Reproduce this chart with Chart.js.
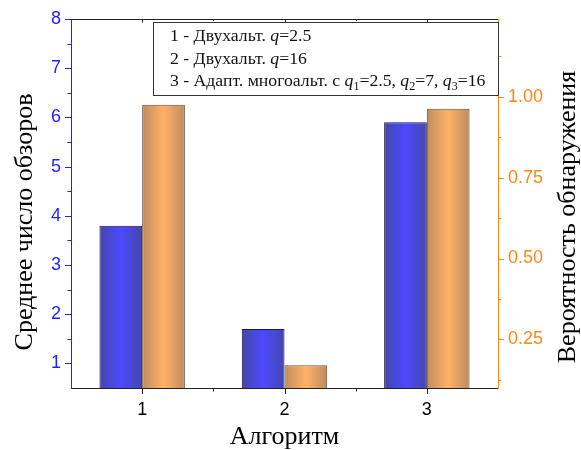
<!DOCTYPE html>
<html>
<head>
<meta charset="utf-8">
<script src="https://cdn.jsdelivr.net/npm/chart.js@4/dist/chart.umd.min.js"></script>
<style>
html,body{margin:0;padding:0;background:#fff;}
#wrap{width:581px;height:450px;position:relative;}
</style>
</head>
<body>
<div id="wrap"><canvas id="c" width="581" height="450"></canvas></div>
<script>
// ---- data ----
const categories = [1, 2, 3];
const avgScans = [3.8, 1.7, 5.9];          // left axis: Среднее число обзоров
const detectProb = [0.975, 0.17, 0.963];   // right axis: Вероятность обнаружения
const xTickValues = [1, 2, 3];
const xMinorValues = [1.5, 2.5];
const leftTickValues = [1, 2, 3, 4, 5, 6, 7, 8];
const leftMinorValues = [1.5, 2.5, 3.5, 4.5, 5.5, 6.5, 7.5];
const rightTickValues = [0.25, 0.5, 0.75, 1.0];
const rightMinorValues = [0.125, 0.375, 0.625, 0.875, 1.125];
const legendLines = [
  [['1 - Двухальт. ', 'n'], ['q', 'i'], ['=2.5', 'n']],
  [['2 - Двухальт. ', 'n'], ['q', 'i'], ['=16', 'n']],
  [['3 - Адапт. многоальт. с ', 'n'], ['q', 'i'], ['1', 's'], ['=2.5, ', 'n'], ['q', 'i'], ['2', 's'], ['=7, ', 'n'], ['q', 'i'], ['3', 's'], ['=16', 'n']]
];
const leftTitle = 'Среднее число обзоров';
const rightTitle = 'Вероятность обнаружения';
const xTitle = 'Алгоритм';

const BLUE = '#1f1fff';
const ORANGE = 'rgb(255,135,25)';
const SANS = 'Liberation Sans';
const SERIF = 'Liberation Serif';

const gradStops = [
  [[70,70,170],[74,74,255],[70,70,170]],
  [[190,140,95],[255,178,102],[190,140,95]]
];
function rgb(a){return 'rgb('+a.join(',')+')';}

const decor = {
  id: 'decor',
  beforeDatasetsDraw(chart) {
    const ctx = chart.ctx;
    chart.data.datasets.forEach((ds, i) => {
      const meta = chart.getDatasetMeta(i);
      meta.data.forEach(el => {
        const p = el.getProps(['x', 'width'], true);
        const g = ctx.createLinearGradient(p.x - p.width / 2, 0, p.x + p.width / 2, 0);
        const s = gradStops[i];
        g.addColorStop(0, rgb(s[0]));
        g.addColorStop(0.5, rgb(s[1]));
        g.addColorStop(1, rgb(s[2]));
        el.options.backgroundColor = g;
      });
    });
  },
  afterDraw(chart) {
    const ctx = chart.ctx;
    const a = chart.chartArea;
    const sx = chart.scales.x, sy = chart.scales.y, sy1 = chart.scales.y1;
    ctx.save();
    ctx.lineWidth = 1;
    // top frame line
    ctx.strokeStyle = '#222';
    ctx.beginPath(); ctx.moveTo(a.left, a.top + 0.5); ctx.lineTo(a.right, a.top + 0.5); ctx.stroke();
    // x ticks bottom (outward) and top (inward)
    const xt = (vals, len) => {
      vals.forEach(v => {
        const px = Math.round(sx.getPixelForValue(v)) + 0.5;
        ctx.beginPath(); ctx.moveTo(px, a.bottom); ctx.lineTo(px, a.bottom + len); ctx.stroke();
        ctx.beginPath(); ctx.moveTo(px, a.top); ctx.lineTo(px, a.top + len * 0.6); ctx.stroke();
      });
    };
    xt(xTickValues, 6); xt(xMinorValues, 3.5);
    // left ticks
    ctx.strokeStyle = BLUE;
    const lt = (vals, len) => vals.forEach(v => {
      const py = Math.round(sy.getPixelForValue(v)) + 0.5;
      ctx.beginPath(); ctx.moveTo(a.left, py); ctx.lineTo(a.left - len, py); ctx.stroke();
    });
    lt(leftTickValues, 6); lt(leftMinorValues, 3.5);
    // right ticks
    ctx.strokeStyle = ORANGE;
    const rt = (vals, len) => vals.forEach(v => {
      const py = Math.round(sy1.getPixelForValue(v)) + 0.5;
      ctx.beginPath(); ctx.moveTo(a.right, py); ctx.lineTo(a.right + len, py); ctx.stroke();
    });
    rt(rightTickValues, 6); rt(rightMinorValues, 3.5);

    // legend box
    const bx = 153, by = 22, bw = a.right - 153, bh = 73;
    ctx.fillStyle = '#fff';
    ctx.fillRect(bx, by, bw, bh);
    ctx.strokeStyle = '#333';
    ctx.strokeRect(bx + 0.5, by + 0.5, bw, bh);
    ctx.fillStyle = '#111';
    ctx.textBaseline = 'alphabetic';
    const baselines = [41, 63.5, 86];
    legendLines.forEach((line, li) => {
      let x = 170;
      line.forEach(([t, k]) => {
        let y = baselines[li];
        if (k === 'i') ctx.font = 'italic 17.7px "' + SERIF + '"';
        else if (k === 's') { ctx.font = '12px "' + SERIF + '"'; y += 4; }
        else ctx.font = '17.7px "' + SERIF + '"';
        ctx.fillText(t, x, y);
        x += ctx.measureText(t).width;
      });
    });

    // rotated y titles
    ctx.fillStyle = '#000';
    ctx.font = '26px "' + SERIF + '"';
    ctx.textAlign = 'center';
    ctx.textBaseline = 'middle';
    ctx.save(); ctx.translate(25, 222); ctx.rotate(-Math.PI / 2); ctx.fillText(leftTitle, 0, 0); ctx.restore();
    ctx.save(); ctx.translate(568, 217); ctx.rotate(-Math.PI / 2); ctx.fillText(rightTitle, 0, 0); ctx.restore();
    ctx.restore();
  }
};

const hiddenGrid = { drawOnChartArea: false, tickLength: 6, tickColor: 'rgba(0,0,0,0)', offset: false };

new Chart(document.getElementById('c'), {
  type: 'bar',
  data: {
    datasets: [
      {
        label: leftTitle,
        data: categories.map((c, i) => ({ x: c, y: avgScans[i] })),
        yAxisID: 'y',
        backgroundColor: () => rgb(gradStops[0][1]),
        borderColor: 'rgb(25,25,70)',
        borderWidth: 1,
        borderSkipped: 'bottom',
        categoryPercentage: 0.6,
        barPercentage: 1.0
      },
      {
        label: rightTitle,
        data: categories.map((c, i) => ({ x: c, y: detectProb[i] })),
        yAxisID: 'y1',
        backgroundColor: () => rgb(gradStops[1][1]),
        borderColor: 'rgb(100,80,60)',
        borderWidth: 1,
        borderSkipped: 'bottom',
        categoryPercentage: 0.6,
        barPercentage: 1.0
      }
    ]
  },
  options: {
    responsive: false,
    animation: false,
    layout: { padding: { top: 19, left: 0, right: 0, bottom: 0 } },
    plugins: { legend: { display: false }, tooltip: { enabled: false } },
    scales: {
      x: {
        type: 'linear', min: 0.5, max: 3.5, offset: false,
        afterBuildTicks: s => { s.ticks = xTickValues.map(v => ({ value: v })); },
        afterFit: s => { s.height = 62; },
        ticks: { color: '#000', font: { family: SANS, size: 18 }, padding: 5, callback: v => String(v) },
        grid: hiddenGrid,
        border: { color: '#222', width: 1 },
        title: { display: true, text: xTitle, color: '#000', font: { family: SERIF, size: 26, lineHeight: 1 }, padding: { top: 0, bottom: 0 } }
      },
      y: {
        position: 'left', min: 0.5, max: 8,
        afterBuildTicks: s => { s.ticks = leftTickValues.map(v => ({ value: v })); },
        afterFit: s => { s.width = 71; },
        ticks: { color: BLUE, font: { family: SANS, size: 18 }, padding: 4, callback: v => String(v) },
        grid: hiddenGrid,
        border: { color: BLUE, width: 1 }
      },
      y1: {
        position: 'right', min: 0.1, max: 1.24,
        afterBuildTicks: s => { s.ticks = rightTickValues.map(v => ({ value: v })); },
        afterFit: s => { s.width = 83; },
        ticks: { color: ORANGE, font: { family: SANS, size: 18 }, padding: 4, callback: v => Number(v).toFixed(2) },
        grid: hiddenGrid,
        border: { color: ORANGE, width: 1 }
      }
    }
  },
  plugins: [decor]
});
</script>
</body>
</html>
